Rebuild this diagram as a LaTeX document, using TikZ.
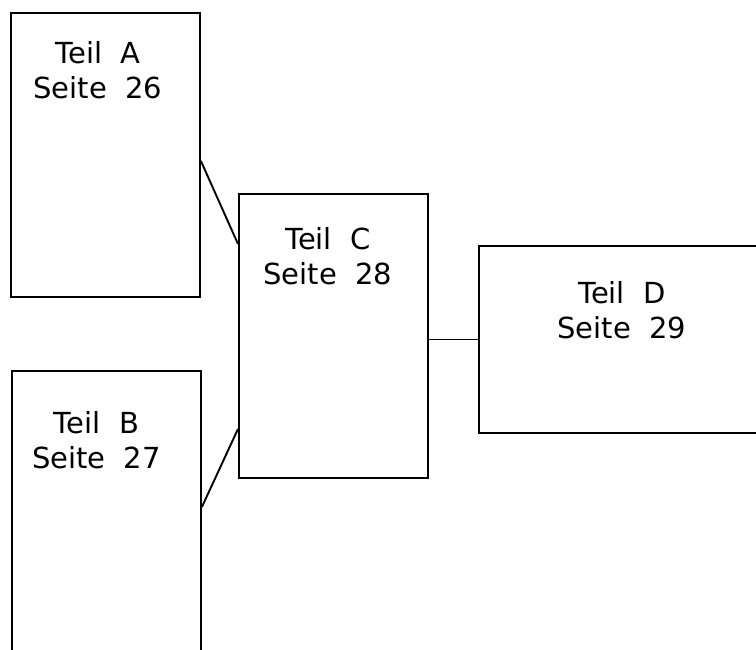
\documentclass[tikz,border=0pt]{standalone}
\usepackage{fontspec}
\setmainfont{DejaVu Sans}
\usetikzlibrary{positioning}
\begin{document}
\begin{tikzpicture}[x=1pt,y=-1pt,line width=1.9pt]
\tikzstyle{teil}=[draw=black,rectangle,anchor=north west,inner sep=0pt,minimum width=189pt,minimum height=284pt]
\tikzstyle{schrift}=[anchor=north,inner sep=0pt,align=center,font=\fontsize{29}{35}\selectfont]
\useasboundingbox (0,0) rectangle (756,650);
\clip (0,0) rectangle (756,650);
\node[teil] (A) at (10,12) {};
\node[teil] (B) at (11,370) {};
\node[teil] (C) at (238,193) {};
\node[teil,minimum width=290pt,minimum height=187pt] (D) at (478,245) {};
\node[schrift][below=29pt of A.north,xshift=-7.5pt] (tA) {Teil\ \ A\\Seite\ \ 26};
\node[schrift][below=41pt of B.north,xshift=-10pt] (tB) {Teil\ \ B\\Seite\ \ 27};
\node[schrift][below=34pt of C.north,xshift=-5.5pt] (tC) {Teil\ \ C\\Seite\ \ 28};
\node[schrift][below=36pt of D.north,xshift=-2pt] (tD) {Teil\ \ D\\Seite\ \ 29};
\path ([yshift=-6pt]A.east) edge ([yshift=-51pt]C.north west)
      ([yshift=-137pt]B.north east) edge ([yshift=50pt]C.south west)
      (C.east |- D.west) edge (D.west);
\end{tikzpicture}
\end{document}
